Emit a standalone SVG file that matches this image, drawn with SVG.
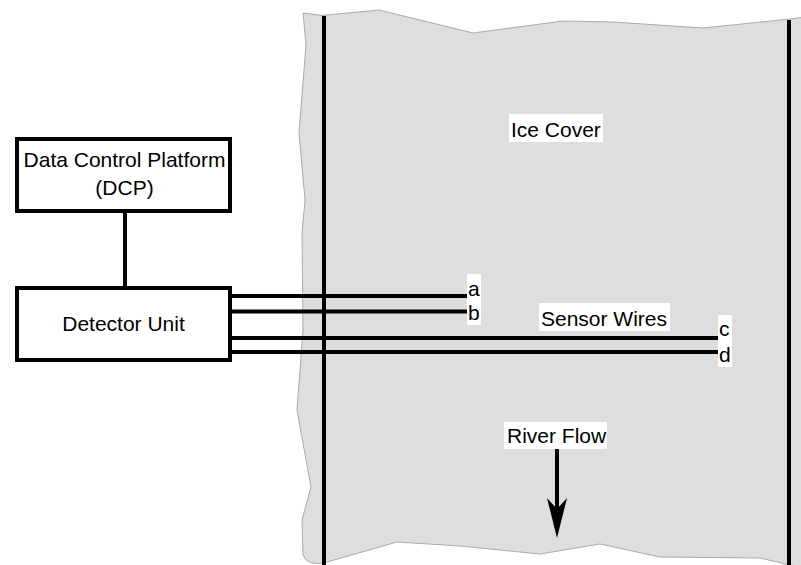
<svg xmlns="http://www.w3.org/2000/svg" width="801" height="565" viewBox="0 0 801 565">
  <style>
    .lbl { font-family: "Liberation Sans", Arial, sans-serif; font-size: 21px; fill: #000; }
    .mid { text-anchor: middle; }
    .box { fill: #fff; stroke: #000; stroke-width: 4; }
    .wire { stroke: #000; stroke-width: 4; fill: none; }
    .bank { stroke: #000; stroke-width: 4; fill: none; }
    .bg { fill: #fff; }
  </style>
  <defs>
    <!-- barbed arrowhead, tip at x=40; the line end sits 18px behind the tip -->
    <marker id="flowhead" viewBox="0 0 40 20" refX="22" refY="10" markerUnits="userSpaceOnUse" markerWidth="40" markerHeight="20" orient="auto">
      <path d="M40,10 L0,0 L11,10 L0,20 Z" fill="#000"/>
    </marker>
  </defs>

  <!-- river ice cover -->
  <g id="ice-cover">
    <path d="M303,13 L322,15.5 L379,10 L473,33 L563,21 L613,22 L703,28 L790,19 L805,17 L805,567 L790,565 L760,558 L660,557 L600,544 L540,554 L460,546 L397,542 L327,562 Q307,567 303,555 L302,520 L311,487 L297,410 L303,330 L302,233 L305,200 L299,133 L306,45 Z" fill="#dedede" stroke="#aaaaaa" stroke-width="1"/>
    <line class="bank" x1="324" y1="16" x2="324" y2="565"/>
    <line class="bank" x1="789" y1="20" x2="789" y2="565"/>
    <rect class="bg" x="509" y="114" width="94" height="28"/>
    <text class="lbl" x="511" y="137">Ice Cover</text>
  </g>

  <!-- connectors -->
  <g id="connectors">
    <line class="wire" x1="125" y1="211" x2="125" y2="288"/>
    <line class="wire" x1="230" y1="296" x2="467" y2="296"/>
    <line class="wire" x1="230" y1="311.5" x2="467" y2="311.5"/>
    <line class="wire" x1="230" y1="338" x2="719" y2="338"/>
    <line class="wire" x1="230" y1="352" x2="719" y2="352"/>
  </g>

  <g id="dcp">
    <rect class="box" x="17" y="139" width="213" height="72"/>
    <text class="lbl mid" x="124.5" y="167">Data Control Platform</text>
    <text class="lbl mid" x="124.5" y="195">(DCP)</text>
  </g>

  <g id="detector-unit">
    <rect class="box" x="17" y="288" width="213" height="72"/>
    <text class="lbl mid" x="123.5" y="331">Detector Unit</text>
  </g>

  <g id="sensor-wires">
    <rect class="bg" x="467" y="274" width="14" height="51"/>
    <text class="lbl" x="468" y="296">a</text>
    <text class="lbl" x="468" y="320">b</text>
    <rect class="bg" x="718" y="315" width="14" height="52"/>
    <text class="lbl" x="719" y="336">c</text>
    <text class="lbl" x="719" y="362">d</text>
    <rect class="bg" x="539" y="303" width="131" height="28"/>
    <text class="lbl" x="541" y="326">Sensor Wires</text>
  </g>

  <g id="river-flow">
    <rect class="bg" x="504" y="422" width="103" height="27"/>
    <text class="lbl" x="507" y="443">River Flow</text>
    <line class="wire" x1="557" y1="449" x2="557" y2="520" marker-end="url(#flowhead)"/>
  </g>
</svg>
